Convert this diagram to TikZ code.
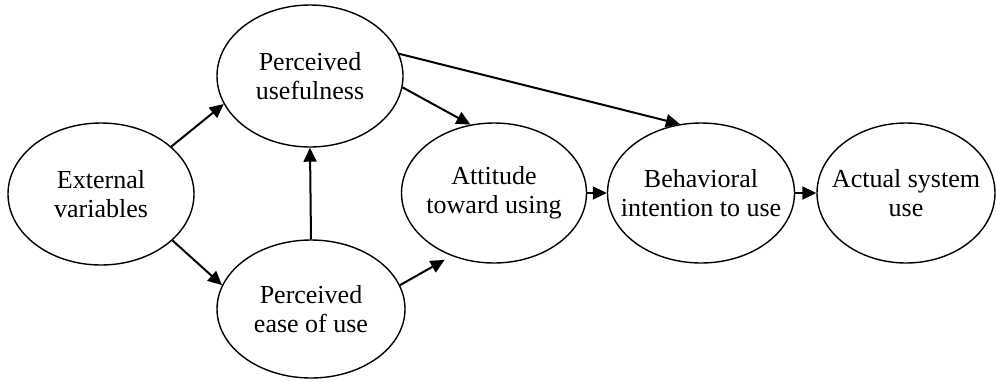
\documentclass[tikz,border=0pt]{standalone}
\usepackage{fontspec}
\setmainfont{Liberation Serif}
\usetikzlibrary{arrows.meta,shapes.geometric}
\begin{document}
\begin{tikzpicture}[x=1pt,y=-1pt,
    construct/.style={draw, ellipse, line width=1.4pt, inner xsep=-30pt, inner ysep=-10pt, align=center,
        font=\fontsize{26}{29}\selectfont},
    arr/.style={line width=2pt, -{Triangle[length=14pt,width=13pt]}}]
                    \useasboundingbox (0,0) rectangle (996,381);
                    \node[construct, minimum width=186pt, minimum height=142pt] (ext) at (101,194) {External\\variables};
                    \node[construct, minimum width=186pt, minimum height=142pt] (pu) at (310,76) {Perceived\\usefulness};
                    \node[construct, minimum width=188pt, minimum height=138pt] (peou) at (311,309) {Perceived\\ease of use};
                    \node[construct, minimum width=185pt, minimum height=140pt] (att) at (494,193) {Attitude\\toward using};
                    \node[construct, minimum width=187pt, minimum height=140pt] (bi) at (701,193) {Behavioral\\intention to use};
                    \node[construct, minimum width=178pt, minimum height=140pt] (asu) at (906,193) {Actual system\\use};
                    \draw[arr] (ext.34) -- (pu.198);
                    \draw[arr] (ext.-33) -- (peou.165);
                    \draw[arr] (peou.north) -- (pu.south);
                    \draw[arr] (pu.-7) -- (att.109);
                    \draw[arr] (pu.14) -- (bi.107);
                    \draw[arr, shorten >=8pt] (peou.15) -- (att.236);
                    \draw[arr] (att.east) -- (bi.west);
                    \draw[arr] (bi.east) -- (asu.west);
                \end{tikzpicture}
\end{document}
